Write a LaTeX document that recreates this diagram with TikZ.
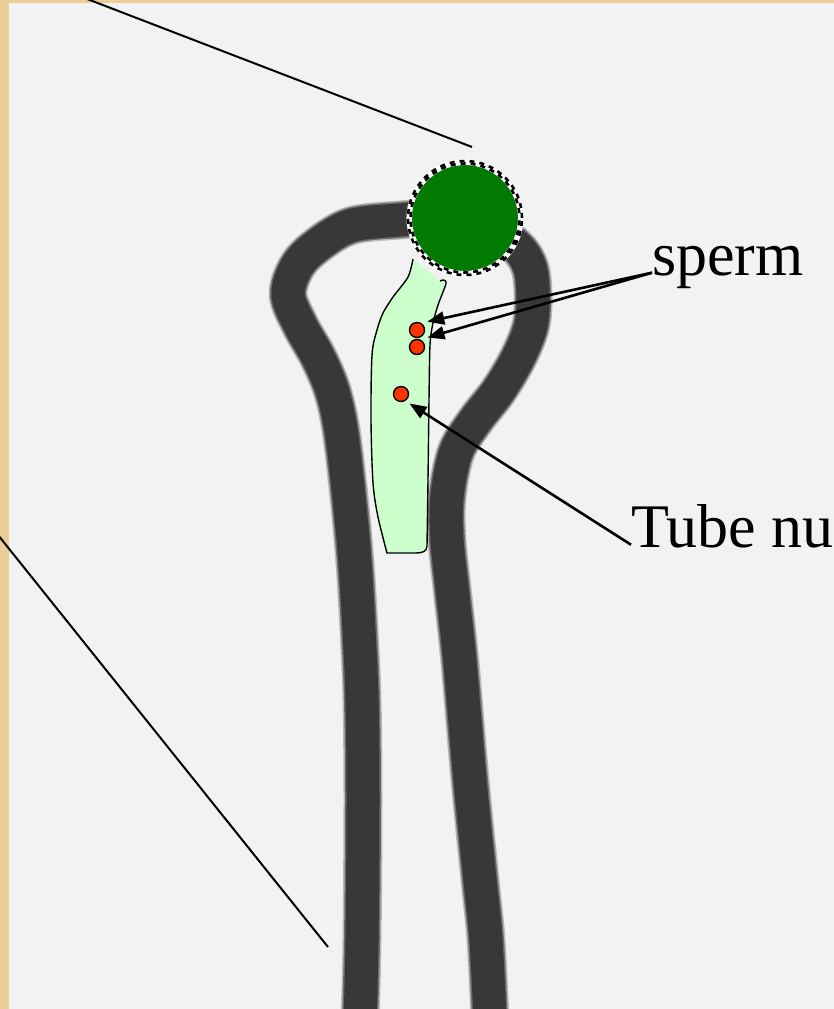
\documentclass[tikz,border=0pt]{standalone}
\usepackage{fontspec}
\setmainfont{Liberation Serif}
\usepackage{tikz}
\usetikzlibrary{arrows.meta,shapes}
\definecolor{parchment}{RGB}{234,206,150}
\definecolor{slide}{RGB}{242,242,242}
\definecolor{wall}{RGB}{56,56,56}
\definecolor{grainGreen}{RGB}{0,122,0}
\definecolor{tubeFill}{RGB}{204,255,204}
\definecolor{nucRed}{RGB}{255,51,0}
\tikzstyle{nuc} = [circle, draw=black, line width=1.4pt, fill=nucRed, minimum size=15pt, inner sep=0pt]
\tikzstyle{lbl} = [inner sep=0pt, font=\fontsize{62}{70}\selectfont]
\tikzstyle{ptr} = [-{Triangle[length=17pt,width=13pt]}, line width=2.6pt]
\tikzstyle{pollen} = [circle, fill=grainGreen, minimum size=106pt, inner sep=0pt]

\begin{document}
\begin{tikzpicture}[x=1pt,y=-1pt]
\useasboundingbox (0,0) rectangle (834,1009);
\clip (0,0) rectangle (834,1009);
\fill[parchment] (0,0) rectangle (834,1009);
\fill[slide] (9,3) rectangle (834,1009);

% zoom lines
\coordinate (zoomTop) at (472,147);
\coordinate (zoomLow) at (328,947);
\draw[line width=2pt] (82,-3) -- (zoomTop);
\draw[line width=2pt] (-2,535) -- (zoomLow);

% tube wall
\def\wallpath{plot[smooth, tension=0.55] coordinates {
  (360,1020) (362,940) (363,800) (362,700) (359,630) (355,563) (349,497)
  (341,430) (332,390) (318,357) (300,325) (288,295) (296,268) (314,248)
  (350,226) (400,220) (445,218) (490,228) (518,248) (530,268) (533,295)
  (531,325) (519,356) (499,390) (475,421) (456,452) (447,497) (447,540)
  (453,597) (460,663) (470,780) (480,880) (486,940) (490,1020)}}
\draw[wall, opacity=0.3, line width=39pt, line join=round] \wallpath;
\draw[wall, opacity=0.6, line width=36pt, line join=round] \wallpath;
\draw[wall, line width=33pt, line join=round] \wallpath;

% pollen tube contents
\draw[fill=tubeFill, line width=1.4pt]
  plot[smooth] coordinates {(413,259) (408,277) (393,297) (383,313) (377,330)
    (372,355) (371,420) (373,483) (378,517) (387,553)}
  -- (416,553) .. controls (423,553) and (427,551) .. (427,546)
  -- plot[smooth] coordinates {(427,546) (428,480) (429,400) (430,345)
    (433,323) (438,305) (443,292) (446,284)}
  .. controls (447,280) and (443,279) .. (440,281);

% pollen grain
\node[pollen] (grain) at (465,218) {};
\draw[white, line width=5.5pt] (grain.center) circle[radius=55.8pt];
\draw[black, line width=2.6pt, dash pattern=on 5pt off 5pt] (grain.center) circle[radius=57pt];
\draw[black, line width=2.6pt, dash pattern=on 5pt off 5pt, dash phase=5pt] (grain.center) circle[radius=54.5pt];

\node[nuc] (nucA) at (417,330) {};
\node[nuc] (nucB) at (417,347) {};
\node[nuc] (nucC) at (401,394) {};

\node[lbl, anchor=base west] (sperm) at (652,275) {sperm};
\node[lbl, anchor=base west] (tubenuc) at (631,547) {Tube nu};

\draw[ptr] (sperm.mid west) -- ([xshift=4.5pt,yshift=2.5pt]nucA.north east);
\draw[ptr] (sperm.mid west) -- ([xshift=4.7pt,yshift=3.7pt]nucB.north east);
\draw[ptr] (tubenuc.mid west) -- ([xshift=2.7pt,yshift=-3.7pt]nucC.south east);
\end{tikzpicture}
\end{document}
